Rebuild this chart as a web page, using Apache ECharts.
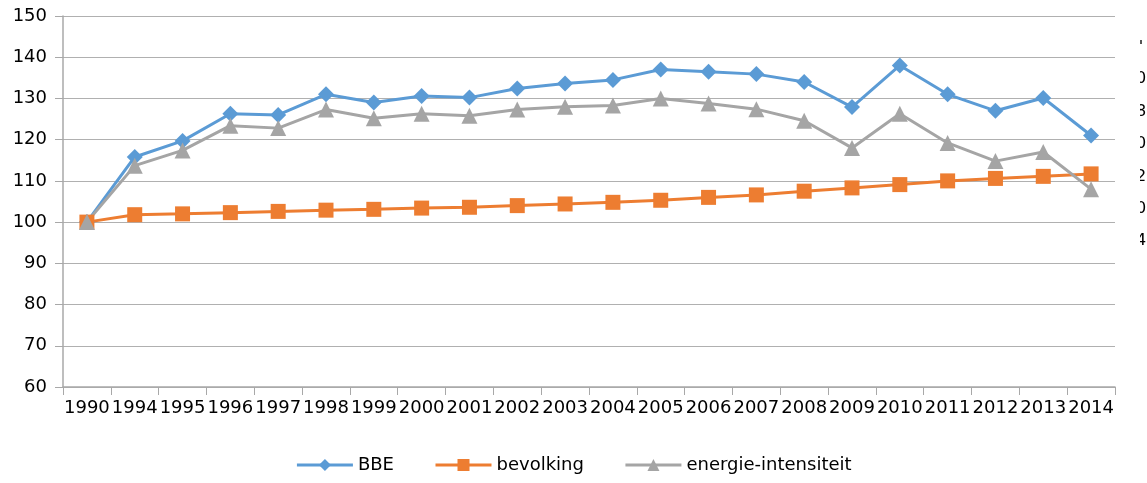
<!DOCTYPE html>
<html><head><meta charset="utf-8">
<script src="https://cdn.jsdelivr.net/npm/echarts@6/dist/echarts.min.js"></script>
<style>html,body{margin:0;padding:0;background:#fff}#c{width:1147px;height:483px}</style>
</head><body><div id="c"></div>
<script>
const categories = ['1990','1994','1995','1996','1997','1998','1999','2000','2001','2002','2003','2004','2005','2006','2007','2008','2009','2010','2011','2012','2013','2014'];
const bbe = [100,115.8,119.7,126.3,126,131,129,130.6,130.2,132.4,133.6,134.5,137,136.5,135.9,134,127.9,138,131,127,130.1,121];
const bevolking = [100,101.8,102,102.3,102.6,102.9,103.1,103.4,103.6,104,104.4,104.8,105.3,106,106.6,107.5,108.3,109.1,110,110.6,111.1,111.7];
const energie = [100,113.7,117.4,123.4,122.8,127.3,125.2,126.3,125.8,127.3,128,128.3,130,128.8,127.4,124.6,118,126.3,119.2,114.8,117,108];
const seriesNames = ['BBE','bevolking','energie-intensiteit'];
const clippedChars = ['0','8','0','2','0','4'];

const font = 'DejaVu Sans';
const chart = echarts.init(document.getElementById('c'));
const graphics = [];
const ys = [80,113,145,178,210,242];
clippedChars.forEach((ch,i)=>{
  graphics.push({type:'text', left:1136, top:ys[i]-9, z:1, style:{text:ch, font:'16px '+font, fill:'#000'}});
});
graphics.push({type:'rect', shape:{x:1120,y:0,width:20,height:300}, z:2, style:{fill:'#fff'}});
graphics.push({type:'rect', shape:{x:1140,y:40,width:2,height:4}, z:3, style:{fill:'#555'}});

function mk(name, data, color, symbol, size){
  return {name, type:'line', data, symbol, symbolSize:size,
    lineStyle:{color, width:3}, itemStyle:{color}, color};
}
chart.setOption({
  animation:false,
  backgroundColor:'#fff',
  grid:{left:63, right:32, top:16, bottom:96},
  graphic: graphics,
  legend:{bottom:4, left:'center', itemWidth:56, itemHeight:15, itemGap:40,
    lineStyle:{width:3},
    textStyle:{fontFamily:font, fontSize:18, color:'#000'},
    data: seriesNames},
  xAxis:{type:'category', data:categories, boundaryGap:true,
    axisLine:{lineStyle:{color:'#a8a8a8', width:1.5}},
    axisTick:{show:true, length:8, lineStyle:{color:'#a8a8a8'}},
    axisLabel:{fontFamily:font, fontSize:18, color:'#000', margin:12, interval:0}},
  yAxis:{type:'value', min:60, max:150, interval:10,
    axisLine:{show:true, lineStyle:{color:'#a8a8a8', width:1.5}},
    axisTick:{show:true, length:8, lineStyle:{color:'#a8a8a8'}},
    axisLabel:{fontFamily:font, fontSize:18, color:'#000', margin:16},
    splitLine:{lineStyle:{color:'#b0b0b0', width:1}}},
  series:[
    mk(seriesNames[0], bbe, '#5b9bd5', 'diamond', 16),
    mk(seriesNames[1], bevolking, '#ed7d31', 'rect', 15),
    mk(seriesNames[2], energie, '#a5a5a5', 'triangle', 16)
  ]
});
</script></body></html>
